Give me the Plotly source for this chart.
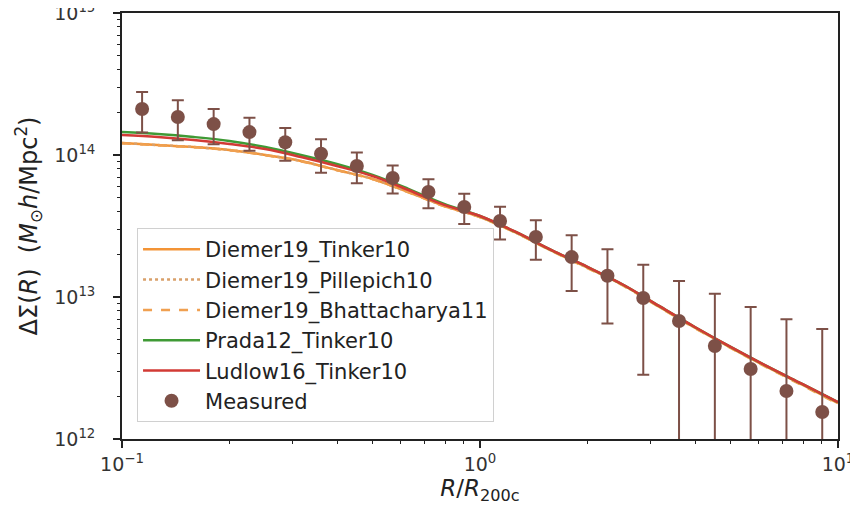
import plotly.graph_objects as go

# ---- data ----
r_meas = [0.1138, 0.1432, 0.1803, 0.2270, 0.2858, 0.3597, 0.4529, 0.5702, 0.7178, 0.9036,
          1.1376, 1.4322, 1.803, 2.270, 2.858, 3.597, 4.529, 5.702, 7.178, 9.036]
ds_meas = [2.11e14, 1.85e14, 1.65e14, 1.45e14, 1.23e14, 1.02e14, 8.37e13, 6.89e13, 5.49e13, 4.30e13,
           3.43e13, 2.65e13, 1.91e13, 1.41e13, 9.84e12, 6.78e12, 4.52e12, 3.11e12, 2.18e12, 1.55e12]
ds_err = [6.7e13, 5.8e13, 4.6e13, 3.8e13, 3.2e13, 2.7e13, 2.05e13, 1.53e13, 1.27e13, 1.04e13,
          8.9e12, 8.2e12, 8.1e12, 7.6e12, 7.0e12, 6.2e12, 6.0e12, 5.4e12, 4.8e12, 4.4e12]

r_model = [0.1, 0.1259, 0.1585, 0.1995, 0.2512, 0.3162, 0.3981, 0.5012, 0.631, 0.7943, 1.0,
           1.259, 1.585, 1.995, 2.512, 3.162, 3.981, 5.012, 6.31, 7.943, 10.0]
diemer19_tinker10 = [1.215e14, 1.175e14, 1.138e14, 1.084e14, 1.000e14, 9.07e13, 7.84e13, 6.78e13, 5.49e13,
                     4.37e13, 3.66e13, 2.84e13, 2.12e13, 1.61e13, 1.21e13, 8.55e12, 6.08e12, 4.40e12,
                     3.23e12, 2.41e12, 1.79e12]
diemer19_pillepich10 = [1.215e14, 1.175e14, 1.138e14, 1.084e14, 1.000e14, 9.07e13, 7.84e13, 6.78e13, 5.49e13,
                        4.37e13, 3.66e13, 2.84e13, 2.12e13, 1.61e13, 1.21e13, 8.58e12, 6.10e12, 4.42e12,
                        3.25e12, 2.43e12, 1.81e12]
diemer19_bhattacharya11 = [1.21e14, 1.17e14, 1.135e14, 1.08e14, 0.998e14, 9.05e13, 7.82e13, 6.76e13, 5.47e13,
                           4.36e13, 3.65e13, 2.83e13, 2.11e13, 1.60e13, 1.20e13, 8.52e12, 6.05e12, 4.38e12,
                           3.21e12, 2.39e12, 1.77e12]
prada12_tinker10 = [1.452e14, 1.406e14, 1.339e14, 1.255e14, 1.138e14, 1.000e14, 8.64e13, 7.23e13, 5.77e13,
                    4.52e13, 3.72e13, 2.87e13, 2.14e13, 1.63e13, 1.22e13, 8.65e12, 6.15e12, 4.45e12,
                    3.27e12, 2.44e12, 1.82e12]
ludlow16_tinker10 = [1.383e14, 1.339e14, 1.276e14, 1.195e14, 1.102e14, 9.68e13, 8.37e13, 7.11e13, 5.67e13,
                     4.45e13, 3.72e13, 2.87e13, 2.14e13, 1.63e13, 1.22e13, 8.65e12, 6.15e12, 4.45e12,
                     3.27e12, 2.44e12, 1.82e12]

x_tickvals = [0.1, 1, 10]
x_ticktext = ["10<sup>\u22121</sup>", "10<sup>0</sup>", "10<sup>1</sup>"]
y_tickvals = [1e12, 1e13, 1e14, 1e15]
y_ticktext = ["10<sup>12</sup>", "10<sup>13</sup>", "10<sup>14</sup>", "10<sup>15</sup>"]
x_minor = [2, 3, 4, 5, 6, 7, 8, 9]
y_decades = [12, 13, 14]

ORANGE = "#f39436"
ORANGE_DOT = "#d9a06a"
ORANGE_DASH = "#f0a050"
GREEN = "#3f9a35"
RED = "#d23a35"
BROWN = "#7d5047"
INK = "#222"

fig = go.Figure()
fig.add_trace(go.Scatter(x=r_model, y=diemer19_tinker10, mode="lines", name="Diemer19_Tinker10",
                         line=dict(color=ORANGE, width=2.5, shape="spline")))
fig.add_trace(go.Scatter(x=r_model, y=diemer19_pillepich10, mode="lines", name="Diemer19_Pillepich10",
                         line=dict(color=ORANGE_DOT, width=2.5, dash="dot", shape="spline")))
fig.add_trace(go.Scatter(x=r_model, y=diemer19_bhattacharya11, mode="lines", name="Diemer19_Bhattacharya11",
                         line=dict(color=ORANGE_DASH, width=2.5, dash="dash", shape="spline")))
fig.add_trace(go.Scatter(x=r_model, y=prada12_tinker10, mode="lines", name="Prada12_Tinker10",
                         line=dict(color=GREEN, width=2.5, shape="spline")))
fig.add_trace(go.Scatter(x=r_model, y=ludlow16_tinker10, mode="lines", name="Ludlow16_Tinker10",
                         line=dict(color=RED, width=2.5, shape="spline")))
fig.add_trace(go.Scatter(x=r_meas, y=ds_meas, mode="markers", name="Measured",
                         marker=dict(color=BROWN, size=14),
                         error_y=dict(type="data", array=ds_err, symmetric=True,
                                      color=BROWN, thickness=2, width=6)))

# empty traces that bind the overlay axes used for minor ticks
fig.add_trace(go.Scatter(x=[], y=[], xaxis="x2", yaxis="y", showlegend=False, hoverinfo="skip"))
fig.add_trace(go.Scatter(x=[], y=[], xaxis="x", yaxis="y2", showlegend=False, hoverinfo="skip"))

minor_x = [m * 10.0 ** k for k in (-1, 0) for m in x_minor]
minor_y = [m * 10.0 ** k for k in y_decades for m in x_minor]

tickfont = dict(family="DejaVu Sans", size=19, color="#333")
axis_common = dict(type="log", showgrid=False, zeroline=False, automargin=False)

fig.update_layout(
    width=858, height=515,
    margin=dict(l=114, r=28, t=5, b=84),
    paper_bgcolor="white", plot_bgcolor="white",
    font=dict(family="DejaVu Sans", color=INK),
    xaxis=dict(axis_common, range=[-1, 1], tickmode="array", tickvals=x_tickvals, ticktext=x_ticktext,
               showline=True, linecolor=INK, linewidth=1.8, mirror=True, ticklabeloverflow="allow",
               ticks="outside", ticklen=7, tickwidth=1.5, tickcolor=INK, tickfont=tickfont,
               title=dict(text="<i>R</i>/<i>R</i><sub>200c</sub>",
                          font=dict(family="DejaVu Sans", size=23, color=INK), standoff=6)),
    yaxis=dict(axis_common, range=[12, 15], tickmode="array", tickvals=y_tickvals, ticktext=y_ticktext,
               showline=True, linecolor=INK, linewidth=1.8, mirror=True, ticklabeloverflow="allow",
               ticks="outside", ticklen=7, tickwidth=1.5, tickcolor=INK, tickfont=tickfont,
               ticklabelstandoff=14,
               title=dict(text="\u0394\u03a3(<i>R</i>)  (<i>M</i><sub>\u2299</sub><i>h</i>/Mpc<sup>2</sup>)",
                          font=dict(family="DejaVu Sans", size=24, color=INK), standoff=10)),
    xaxis2=dict(axis_common, range=[-1, 1], overlaying="x", anchor="y", side="bottom",
                tickmode="array", tickvals=minor_x, showticklabels=False,
                ticks="outside", ticklen=4, tickwidth=1.2, tickcolor=INK, showline=False),
    yaxis2=dict(axis_common, range=[12, 15], overlaying="y", anchor="x", side="left",
                tickmode="array", tickvals=minor_y, showticklabels=False,
                ticks="outside", ticklen=4, tickwidth=1.2, tickcolor=INK, showline=False),
    legend=dict(x=0.021, y=0.495, xanchor="left", yanchor="top",
                bgcolor="rgba(255,255,255,0.85)", bordercolor="#d0d0d0", borderwidth=1,
                font=dict(family="DejaVu Sans", size=21, color=INK),
                itemwidth=57),
    showlegend=True,
)

fig.write_html("out.html")
